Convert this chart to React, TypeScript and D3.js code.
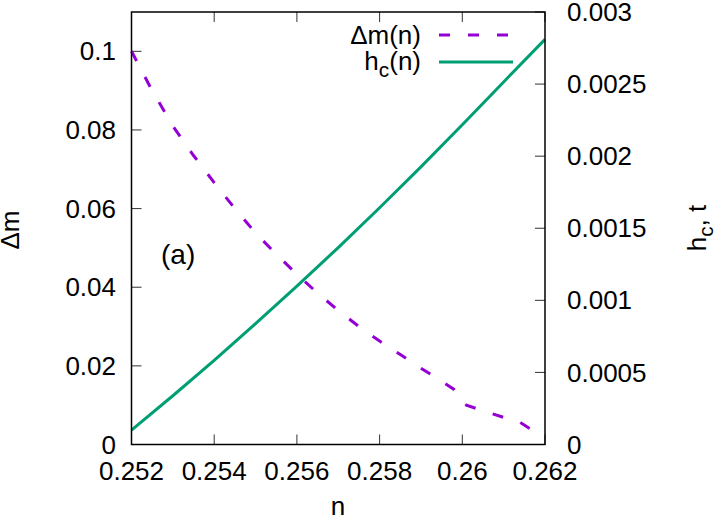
import React from 'react';
import * as d3 from 'd3';

// n values and the two curves
const dmN = [0.252, 0.2525, 0.253, 0.2535, 0.254, 0.2545, 0.255, 0.2555, 0.256, 0.2565, 0.257, 0.2575, 0.258, 0.2585, 0.259, 0.2595, 0.2598, 0.2601, 0.2605, 0.261, 0.2614, 0.2617];
const dmValues = [0.1, 0.09, 0.081, 0.0735, 0.0666, 0.06, 0.0538, 0.0484, 0.0433, 0.0385, 0.0341, 0.03, 0.0263, 0.0229, 0.0194, 0.0161, 0.014, 0.0100, 0.0086, 0.0069, 0.0056, 0.0036];

const hcN = [0.252, 0.253, 0.254, 0.255, 0.256, 0.257, 0.258, 0.259, 0.26, 0.2601, 0.261, 0.262];
const hcValues = [0.0001, 0.000338, 0.000584, 0.000838, 0.001098, 0.001366, 0.001642, 0.001926, 0.002218, 0.002248, 0.002515, 0.00281];

const xTicks = [0.252, 0.254, 0.256, 0.258, 0.26, 0.262];
const xTickLabels = ['0.252', '0.254', '0.256', '0.258', '0.26', '0.262'];
const leftTicks = [0, 0.02, 0.04, 0.06, 0.08, 0.1];
const leftTickLabels = ['0', '0.02', '0.04', '0.06', '0.08', '0.1'];
const rightTicks = [0, 0.0005, 0.001, 0.0015, 0.002, 0.0025, 0.003];
const rightTickLabels = ['0', '0.0005', '0.001', '0.0015', '0.002', '0.0025', '0.003'];

const W = 718;
const H = 521;
const left = 131.5, right = 545, top = 12, bottom = 444.5;
const font = '"Liberation Sans", Arial, sans-serif';
const fs = 26;
const purple = '#9400d3';
const green = '#009e73';

export default function App() {
  const x = d3.scaleLinear().domain([0.252, 0.262]).range([left, right]);
  const yL = d3.scaleLinear().domain([0, 0.11]).range([bottom, top]);
  const yR = d3.scaleLinear().domain([0, 0.003]).range([bottom, top]);

  const dmLine = d3.line<number>()
    .x((_, i) => x(dmN[i]))
    .y(d => yL(d));
  const hcLine = d3.line<number>()
    .x((_, i) => x(hcN[i]))
    .y(d => yR(d));

  const tickLen = 10;

  return (
    <div style={{ position: 'absolute', left: 0, top: 0 }}>
      <svg width={W} height={H} style={{ display: 'block', background: '#fff' }} fontFamily={font} fontSize={fs}>
        {/* x ticks, bottom and top */}
        {xTicks.map((t, i) => (
          <g key={'x' + i}>
            <line x1={x(t)} x2={x(t)} y1={bottom} y2={bottom - tickLen} stroke="#333" strokeWidth={1} />
            <line x1={x(t)} x2={x(t)} y1={top} y2={top + tickLen} stroke="#333" strokeWidth={1} />
            <text x={x(t)} y={480} textAnchor="middle">{xTickLabels[i]}</text>
          </g>
        ))}
        {leftTicks.map((t, i) => (
          <g key={'l' + i}>
            <line x1={left} x2={left + tickLen} y1={yL(t)} y2={yL(t)} stroke="#333" strokeWidth={1} />
            <text x={116} y={yL(t)} dy="0.35em" textAnchor="end">{leftTickLabels[i]}</text>
          </g>
        ))}
        {rightTicks.map((t, i) => (
          <g key={'r' + i}>
            <line x1={right} x2={right - tickLen} y1={yR(t)} y2={yR(t)} stroke="#333" strokeWidth={1} />
            <text x={567} y={yR(t)} dy="0.35em" textAnchor="start">{rightTickLabels[i]}</text>
          </g>
        ))}

        <path d={dmLine(dmValues) || ''} fill="none" stroke={purple} strokeWidth={3} strokeDasharray="11 18" />
        <path d={hcLine(hcValues) || ''} fill="none" stroke={green} strokeWidth={3} />

        <rect x={left} y={top} width={right - left} height={bottom - top} fill="none" stroke="#000" strokeWidth={1.5} />

        {/* legend */}
        <text x={421} y={44} textAnchor="end">Δm(n)</text>
        <line x1={439} x2={513} y1={35} y2={35} stroke={purple} strokeWidth={3} strokeDasharray="11 18" />
        <text x={421} y={70} textAnchor="end">h<tspan dy={7} fontSize={fs * 0.8}>c</tspan><tspan dy={-7}>(n)</tspan></text>
        <line x1={439} x2={513} y1={62} y2={62} stroke={green} strokeWidth={3} />

        <text x={161} y={264} fontSize={28}>(a)</text>

        {/* axis titles */}
        <text x={338} y={515} textAnchor="middle">n</text>
        <text transform="translate(19,230) rotate(-90)" textAnchor="middle">Δm</text>
        <text transform="translate(706,228) rotate(-90)" textAnchor="middle">h<tspan dy={7} fontSize={fs * 0.8}>c</tspan><tspan dy={-7}>, t</tspan></text>
      </svg>
    </div>
  );
}
